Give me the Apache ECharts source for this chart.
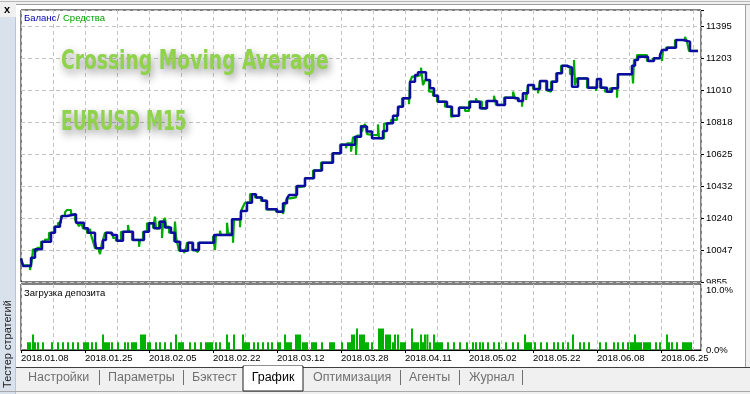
<!DOCTYPE html>
<html>
<head>
<meta charset="utf-8">
<script src="https://cdn.jsdelivr.net/npm/echarts@6/dist/echarts.min.js"></script>
<style>
html,body{margin:0;padding:0;background:#f0f0f0;}
#c{width:750px;height:394px;}
</style>
</head>
<body>
<div id="c"></div>
<script>
// ---- data (x = deal index, 2px per index in the original) ----
const balance = [
[0,9997],[1,9951],[5,10001],[7,10052],[10.5,10097],[15,10151],[17,10188],[19.5,10208],[20.5,10252],[23,10262],
[27.5,10212],[31.5,10178],[33.5,10151],[37,10103],[37.5,10058],[41,10108],[42.5,10151],[45.5,10138],[48,10103],
[51,10157],[56,10108],[61.5,10157],[64,10208],[66.5,10178],[69.5,10218],[72,10183],[75,10151],[77,10097],[79.5,10043],
[83.5,10091],[86,10047],[89,10091],[96.5,10138],[105.5,10232],[110,10282],[113,10332],[115.5,10383],[117.5,10364],
[120.5,10344],[123,10292],[128,10278],[131,10328],[133,10358],[134,10378],[138,10432],[142,10479],[146.5,10525],
[150.5,10573],[156,10629],[160,10681],[167,10729],[170,10790],[173,10760],[175.5,10720],[181,10763],[183,10810],
[186,10855],[188.5,10910],[191,10960],[194.5,11060],[197,11100],[198.5,11117],[202.5,11070],[204.5,11020],[206.5,10976],
[208.5,10940],[213,10910],[215.5,10855],[219,10904],[224.5,10940],[229.5,10900],[233,10944],[238,10920],[242,10964],
[246,10960],[248.5,10944],[251,10990],[253.5,11040],[256.5,11016],[259.5,11064],[263,11010],[265.5,11060],[268,11111],
[270.5,11156],[273,11144],[275.5,11030],[278.5,11080],[283.5,11024],[288,11076],[290,11024],[293,11000],[295.5,11020],
[298.5,11105],[305.5,11156],[307,11191],[308.5,11210],[313.5,11185],[316.5,11201],[319.5,11221],[320.5,11251],
[323,11265],[327.5,11311],[331,11301],[334.5,11245],[338.5,11245]
];
const equity = [
[0,9997],[1,9955],[4.5,9927],[5.5,9990],[6,10052],[7,10040],[8,10060],[10,10097],[12,10110],[14,10151],[16.5,10188],
[18.5,10210],[20,10252],[22,10275],[23,10288],[25,10262],[27,10230],[28,10212],[29,10190],[30,10215],[31,10178],
[33,10150],[34.5,10175],[35,10138],[36,10100],[37,10058],[39,10040],[39.5,10023],[40.5,10090],[41,10108],[42,10151],
[44,10140],[46,10120],[47.5,10103],[50,10157],[53.5,10198],[54,10157],[55.5,10108],[59,10067],[59.5,10108],[61,10157],
[63,10208],[66,10178],[67,10248],[67.5,10178],[69,10218],[70.5,10119],[71,10218],[72,10240],[72.5,10188],[74,10151],
[76.5,10097],[77,10218],[77.5,10130],[78,10097],[79,10043],[81.5,10029],[82.5,10060],[83,10091],[85.5,10047],[87,10035],
[88.5,10091],[96,10130],[97,10047],[97.5,10138],[99.5,10163],[100,10138],[103,10212],[103.5,10150],[104,10140],
[106,10091],[106.5,10232],[109.5,10184],[110,10282],[111,10308],[112,10332],[114.5,10383],[117,10364],[120,10344],
[122.5,10292],[124,10288],[124.5,10292],[127.5,10278],[131,10264],[132,10328],[133,10358],[134.5,10364],[137.5,10432],
[138.5,10425],[139,10432],[142,10479],[146,10525],[148.5,10518],[149,10525],[150,10573],[155.5,10629],[159.5,10681],
[162.5,10660],[163,10689],[165,10639],[166,10725],[167.5,10619],[168,10735],[170,10800],[170.5,10759],[171,10790],
[172,10805],[173,10745],[174,10740],[176,10739],[178.5,10803],[179,10720],[180,10719],[181.5,10808],[183,10810],
[185,10830],[188,10849],[189,10910],[190.5,10960],[194,10924],[194.5,11060],[195.5,11090],[197,11100],[200,11144],
[201,11040],[202,11070],[204,11000],[206,10976],[208,10940],[212,10910],[215,10849],[216,10855],[219,10904],[222,10884],
[224,10940],[227.5,10960],[228,10940],[230.5,10898],[232.5,10944],[236.5,10976],[237.5,10920],[241.5,10964],[246,11000],
[247,10960],[249,10944],[250.5,10910],[251,10990],[252.5,10950],[253.5,11040],[256,11016],[258.5,10990],[259.5,11064],
[262.5,11010],[263.5,11000],[265,11060],[267.5,11111],[270,11156],[272.5,11144],[274.5,11105],[276.5,11191],[277,11040],
[278,11080],[283,11024],[287.5,11004],[288,11076],[289.5,11024],[292,11000],[294.5,11020],[298,10964],[298.5,11105],
[305.5,11156],[306,11050],[306.5,11191],[308,11220],[313,11185],[316,11201],[320.5,11185],[321,11251],[322.5,11265],
[327,11311],[332,11330],[333,11301],[334,11245],[338.5,11245]
];
const S = 1.3, M = 2.6, T = 3.6;
const depositLoad = [
[3.5,S],[4.5,S],[6,M],[7,S],[8.5,S],[11,S],[15.5,S],[18.5,S],[21,S],[23.5,S],[26,S],[28.5,S],
[31.5,S],[32.5,S],[33.5,S],[35.5,S],[37.5,S],[41,M],[42,S],[43,S],[44,S],[45.5,S],[48.5,S],[52,S],[53.5,S],
[55.5,S],[56.5,S],[57.5,S],[60,M],[61,M],[62,M],[63.5,S],[64.5,S],[67.5,S],[69.5,S],[72,S],[75,S],[77.5,M],
[79,S],[80,S],[81,S],[84.5,S],[87,S],[90,S],[92.5,S],[93.5,S],[94.5,S],[95.5,S],[97.5,S],[99.5,S],
[103,M],[104,S],[106.5,M],[111,M],[112,S],[113,S],[114,S],[116.5,S],[118.5,S],[121,S],[123.5,S],[125.5,S],
[128.5,S],[129.5,S],[132,M],[133,S],[134,S],[135,S],[137.5,M],[138.5,M],[139.5,M],[141,S],[142,S],[143,S],
[145.5,S],[146.5,S],[147.5,S],[150.5,S],[154.5,S],[155.5,S],[156.5,S],[160.5,S],[163.5,S],[164.5,S],
[165.5,M],[166.5,M],[168,T],[169.5,M],[170.5,M],[171.5,M],[172.5,S],[173.5,S],[175.5,S],
[179,T],[180,T],[181,T],[182.5,M],[183.5,M],[184.5,M],[186,S],[187,M],[188.5,M],[190,S],[191,S],[192,S],
[195.5,T],[196.5,S],[197.5,S],[198.5,S],[200,M],[201,S],[202,M],[203.2,M],[204.5,S],[206.5,M],
[207.5,S],[208.5,S],[209.5,S],[210.5,S],[213.5,S],[216.5,S],[219.5,S],[223,S],[226,S],[227.5,S],
[229.5,S],[231,S],[233.5,S],[236.5,S],[239,S],[242.5,S],[246,S],[248.5,S],[252,M],[253,S],[254,S],[255,S],
[257,S],[260,S],[263,S],[266.5,S],[268.5,S],[271,S],[273.5,S],[276,M],[279.5,S],[281.5,S],[284,S],
[289.5,S],[292.5,S],[296.5,S],[298.5,S],[301,S],[303.5,S],[305,S],[306,S],[307,M],[308,S],[309,S],[310,S],
[311.5,S],[312.5,S],[313.5,S],[314.5,S],[317.5,S],[319.5,S],[323,M],[324,S],[325.5,S],[328,S],
[331,S],[332,S],[333,S],[334,S],[335,S]
];
const yTickLabels = ['9855','10047','10240','10432','10625','10818','11010','11203','11395'];
const yMin = 9854.8, yStep = 192.55;
const dateLabels = ['2018.01.08','2018.01.25','2018.02.05','2018.02.22','2018.03.12','2018.03.28','2018.04.11','2018.05.02','2018.05.22','2018.06.08','2018.06.25'];
const tabs = ['Настройки','Параметры','Бэктест','График','Оптимизация','Агенты','Журнал'];

const FONT = 'Liberation Sans, Arial, sans-serif';
const WFONT = 'bold 26px "DejaVu Sans Condensed","DejaVu Sans",sans-serif';
const dash = {color:'#c4c4c4', type:[4,3], width:1};

const chart = echarts.init(document.getElementById('c'), null, {renderer:'canvas'});

// tab graphics
const tabX = [28,108,192,273,313,409,469];
const sepX = [99,183,400,459,522];
const tabGraphics = [];
tabs.forEach((t,i)=>{
  const sel = i===3;
  tabGraphics.push({type:'text', x:tabX[i], y:378, z:20,
    style:{text:t, fill: sel?'#000':'#707070', font:'12.5px '+FONT, textAlign: sel?'center':'left', textVerticalAlign:'middle'}});
});
sepX.forEach(x=>tabGraphics.push({type:'rect', shape:{x:x,y:370,width:1,height:15}, z:20, style:{fill:'#707070'}}));

const wmStyle = t => ({text:t, fill:'#8fd24b', font:WFONT, textVerticalAlign:'middle',
  textShadowColor:'rgba(0,0,0,0.45)', textShadowBlur:8, textShadowOffsetX:2, textShadowOffsetY:4});

chart.setOption({
  animation:false,
  backgroundColor:'#f0f0f0',
  graphic:[
    // white chart panel
    {type:'rect', shape:{x:16,y:5,width:730,height:362}, z:-10, style:{fill:'#ffffff'}},
    {type:'rect', shape:{x:16,y:4,width:734,height:1}, z:-9, style:{fill:'#a0a0a0'}},
    {type:'rect', shape:{x:745,y:5,width:1,height:362}, z:-9, style:{fill:'#a0a0a0'}},
    {type:'rect', shape:{x:0,y:1,width:750,height:1}, z:-9, style:{fill:'#b8b8b8'}},
    // left strip
    {type:'rect', shape:{x:0,y:17,width:15,height:377}, z:-9, style:{fill:'#d8e1ec'}},
    {type:'rect', shape:{x:15,y:17,width:1,height:377}, z:-9, style:{fill:'#b9c6d6'}},
    {type:'text', x:7, y:10, z:20, style:{text:'x', fill:'#000', font:'bold 11px '+FONT, textAlign:'center', textVerticalAlign:'middle'}},
    {type:'text', x:8, y:344, rotation:Math.PI/2, z:20, style:{text:'Тестер стратегий', fill:'#222', font:'11px '+FONT, textAlign:'center', textVerticalAlign:'middle'}},
    // tab bar
    {type:'rect', shape:{x:16,y:367,width:734,height:1}, z:-8, style:{fill:'#404040'}},
    {type:'rect', shape:{x:0,y:391,width:750,height:1}, z:-8, style:{fill:'#a8a8a8'}},
    {type:'rect', shape:{x:243,y:366,width:60,height:25}, z:-7, style:{fill:'#ffffff', stroke:'#202020', lineWidth:1}},
    {type:'rect', shape:{x:244,y:366,width:58,height:3}, z:-6, style:{fill:'#ffffff'}},
    ...tabGraphics,
    // legend texts
    {type:'text', x:24, y:18, z:20, style:{text:'Баланс', fill:'#0000b4', font:'9.5px '+FONT, textVerticalAlign:'middle'}},
    {type:'text', x:57, y:18, z:20, style:{text:'/', fill:'#333', font:'9.5px '+FONT, textVerticalAlign:'middle'}},
    {type:'text', x:63, y:18, z:20, style:{text:'Средства', fill:'#00a000', font:'9.5px '+FONT, textVerticalAlign:'middle'}},
    {type:'text', x:24, y:293, z:20, style:{text:'Загрузка депозита', fill:'#000', font:'9.5px '+FONT, textVerticalAlign:'middle'}},
    // watermark (condensed horizontally)
    {type:'text', x:61, y:62, scaleX:0.8, z:1, style:wmStyle('Crossing Moving Average')},
    {type:'text', x:61, y:123, scaleX:0.73, z:1, style:wmStyle('EURUSD M15')},
    // mask clipping the bottom tick label of the top pane
    {type:'rect', shape:{x:703,y:283.5,width:40,height:8}, z:5, style:{fill:'#ffffff'}}
  ],
  grid:[
    {left:21, top:10, width:680, height:272, show:true, borderColor:'#000', borderWidth:1, backgroundColor:'transparent'},
    {left:21, top:284, width:680, height:66, show:true, borderColor:'#000', borderWidth:1, backgroundColor:'transparent'}
  ],
  xAxis:[
    {gridIndex:0, type:'value', min:0, max:340, interval:16, axisLine:{show:false}, axisTick:{show:false}, axisLabel:{show:false}, splitLine:{show:true, lineStyle:dash}},
    {gridIndex:1, type:'value', min:0, max:340, interval:16, axisLine:{show:false}, axisTick:{show:false}, axisLabel:{show:false}, splitLine:{show:true, lineStyle:dash}},
    {gridIndex:1, type:'value', min:0, max:340, interval:32, position:'bottom',
      axisLine:{show:true, lineStyle:{color:'#000'}}, axisTick:{show:true, length:3, lineStyle:{color:'#000'}},
      splitLine:{show:false},
      axisLabel:{show:true, margin:3, color:'#000', fontFamily:FONT, fontSize:9.5, align:'left', showMaxLabel:false,
        formatter:v=>{const k=Math.round(v/32); return (v%32===0 && dateLabels[k])?dateLabels[k]:'';}}}
  ],
  yAxis:[
    {gridIndex:0, type:'value', min:yMin, max:yMin+8.5*yStep, show:false, splitLine:{show:false}},
    {gridIndex:0, type:'value', min:0, max:8.5, interval:1, position:'right',
      axisLine:{show:false}, axisTick:{show:true, length:3, lineStyle:{color:'#000'}},
      splitLine:{show:true, lineStyle:dash},
      axisLabel:{show:true, margin:5, color:'#000', fontFamily:FONT, fontSize:9.5,
        formatter:v=>(Number.isInteger(v) && yTickLabels[v]!==undefined)?yTickLabels[v]:''}},
    {gridIndex:1, type:'value', min:0, max:11, interval:10, position:'right', z:10,
      axisLine:{show:false}, axisTick:{show:false}, splitLine:{show:false},
      axisLabel:{show:true, margin:5, color:'#000', fontFamily:FONT, fontSize:9.5,
        formatter:v=>(v===0||v===10)?v.toFixed(1)+'%':''}}
  ],
  series:[
    {name:'Средства', type:'line', xAxisIndex:0, yAxisIndex:0, data:equity, step:'end', showSymbol:false,
      lineStyle:{color:'#00aa00', width:2.2}, z:2},
    {name:'Баланс', type:'line', xAxisIndex:0, yAxisIndex:0, data:balance, step:'end', showSymbol:false,
      lineStyle:{color:'#0c0ca0', width:2.5}, z:3},
    {name:'Загрузка депозита', type:'bar', xAxisIndex:1, yAxisIndex:2, data:depositLoad, barWidth:2,
      itemStyle:{color:'#00b000'}, z:2}
  ]
});
</script>
</body>
</html>
